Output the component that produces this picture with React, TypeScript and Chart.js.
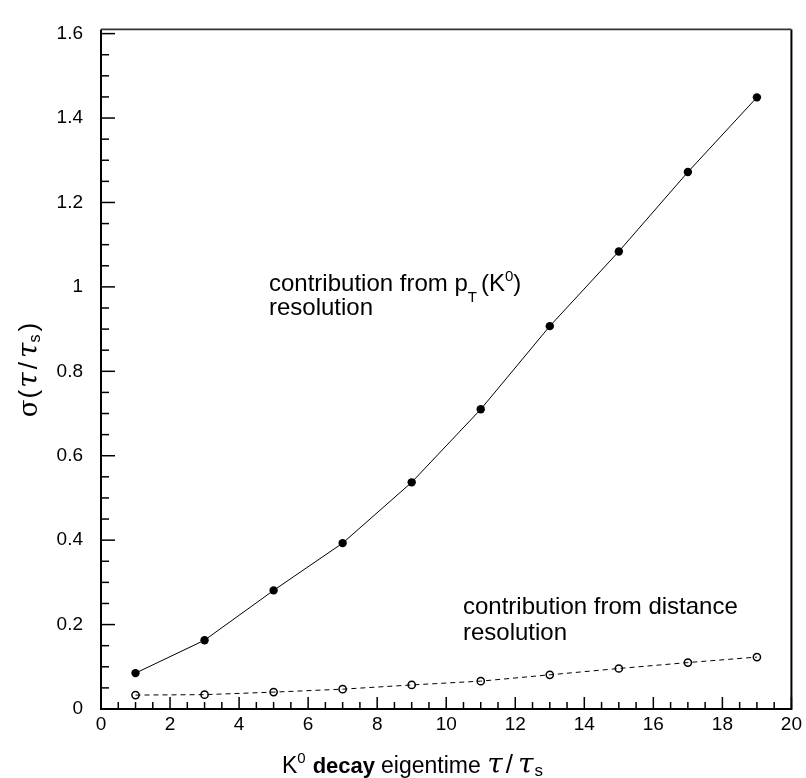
import { useEffect, useRef } from 'react';
import { Chart, registerables } from 'chart.js';

Chart.register(...registerables);

// ---- data ----
const decayTimes = [1, 3, 5, 7, 9, 11, 13, 15, 17, 19];
const ptResolution = [0.085, 0.163, 0.281, 0.393, 0.537, 0.71, 0.907, 1.084, 1.272, 1.449];
const distanceResolution = [0.033, 0.034, 0.04, 0.047, 0.057, 0.066, 0.081, 0.096, 0.11, 0.123];
const yTickValues = [0, 0.2, 0.4, 0.6, 0.8, 1, 1.2, 1.4, 1.6];
const xMajorStep = 2;
const xMinorStep = 0.5;
const yMajorStep = 0.2;
const yMinorStep = 0.05;

const FONT = '"Liberation Sans", Arial, Helvetica, sans-serif';
const SERIF = '"DejaVu Serif", "Liberation Serif", serif';

type Run = { text: string; font: string; dy?: number; dx?: number };

function runsWidth(ctx: CanvasRenderingContext2D, runs: Run[]) {
  let w = 0;
  for (const r of runs) {
    ctx.font = r.font;
    w += ctx.measureText(r.text).width + (r.dx || 0);
  }
  return w;
}

function drawRuns(ctx: CanvasRenderingContext2D, x: number, y: number, runs: Run[]) {
  let cx = x;
  ctx.textBaseline = 'alphabetic';
  ctx.textAlign = 'left';
  for (const r of runs) {
    ctx.font = r.font;
    ctx.fillText(r.text, cx, y + (r.dy || 0));
    cx += ctx.measureText(r.text).width + (r.dx || 0);
  }
  return cx - x;
}

const pawPlugin = {
  id: 'pawFrame',
  afterDraw(chart: any) {
    const ctx: CanvasRenderingContext2D = chart.ctx;
    const { left, right, top, bottom } = chart.chartArea;
    const xs = chart.scales.x;
    const ys = chart.scales.y;
    ctx.save();
    ctx.strokeStyle = '#000';
    ctx.fillStyle = '#000';

    // ticks (inside)
    ctx.lineWidth = 1.5;
    const nx = Math.round((xs.max - xs.min) / xMinorStep);
    for (let i = 0; i <= nx; i++) {
      const v = xs.min + i * xMinorStep;
      const px = xs.getPixelForValue(v);
      const major = Math.abs(v / xMajorStep - Math.round(v / xMajorStep)) < 1e-6;
      const len = major ? 12 : 7;
      ctx.beginPath();
      ctx.moveTo(px, bottom);
      ctx.lineTo(px, bottom - len);
      ctx.stroke();
    }
    const yTop = yTickValues[yTickValues.length - 1];
    const ny = Math.round(yTop / yMinorStep);
    for (let i = 0; i <= ny; i++) {
      const v = i * yMinorStep;
      const py = ys.getPixelForValue(v);
      const major = Math.abs(v / yMajorStep - Math.round(v / yMajorStep)) < 1e-6;
      const len = major ? 14 : 8;
      ctx.beginPath();
      ctx.moveTo(left, py);
      ctx.lineTo(left + len, py);
      ctx.stroke();
    }

    // frame
    ctx.lineWidth = 2;
    ctx.beginPath();
    ctx.moveTo(left, top);
    ctx.lineTo(left, bottom);
    ctx.lineTo(right, bottom);
    ctx.lineTo(right, top);
    ctx.stroke();
    ctx.lineWidth = 1.6;
    ctx.strokeStyle = '#333';
    ctx.beginPath();
    ctx.moveTo(left, top);
    ctx.lineTo(right, top);
    ctx.stroke();

    // annotations
    const f24 = `24px ${FONT}`;
    const f15 = `15px ${FONT}`;
    drawRuns(ctx, 269, 291, [
      { text: 'contribution from p', font: f24 },
      { text: 'T', font: f15, dy: 11, dx: 4 },
      { text: '(K', font: f24 },
      { text: '0', font: f15, dy: -10 },
      { text: ')', font: f24 },
    ]);
    drawRuns(ctx, 269, 315, [{ text: 'resolution', font: f24 }]);
    drawRuns(ctx, 463, 614, [{ text: 'contribution from distance', font: f24 }]);
    drawRuns(ctx, 463, 640, [{ text: 'resolution', font: f24 }]);

    // x axis title
    const t23 = `23px ${FONT}`;
    const t23b = `bold 22px ${FONT}`;
    const g28 = `italic 28px ${SERIF}`;
    const s15 = `15px ${FONT}`;
    drawRuns(ctx, 282, 773, [
      { text: 'K', font: t23 },
      { text: '0', font: s15, dy: -10, dx: 7 },
      { text: 'decay', font: t23b, dx: 6 },
      { text: 'eigentime ', font: t23, dx: 0 },
      { text: 'τ', font: g28, dx: 3 },
      { text: '/', font: `26px ${FONT}`, dx: 5 },
      { text: 'τ', font: g28, dx: 1 },
      { text: 's', font: `17px ${FONT}`, dy: 3 },
    ]);

    // y axis title (rotated)
    const yRuns: Run[] = [
      { text: 'σ', font: `26px ${SERIF}`, dx: 1 },
      { text: '(', font: `26px ${FONT}`, dx: 2 },
      { text: 'τ', font: g28, dx: 3 },
      { text: '/', font: `26px ${FONT}`, dx: 4 },
      { text: 'τ', font: g28 },
      { text: 's', font: `16px ${FONT}`, dy: 3, dx: 3 },
      { text: ')', font: `26px ${FONT}` },
    ];
    ctx.save();
    ctx.translate(37, 370);
    ctx.rotate(-Math.PI / 2);
    const w = runsWidth(ctx, yRuns);
    drawRuns(ctx, -w / 2, 0, yRuns);
    ctx.restore();

    ctx.restore();
  },
};

export default function App() {
  const ref = useRef<HTMLCanvasElement | null>(null);

  useEffect(() => {
    if (!ref.current) return;
    const chart = new Chart(ref.current, {
      type: 'line',
      data: {
        datasets: [
          {
            label: 'pT resolution',
            data: decayTimes.map((x, i) => ({ x, y: ptResolution[i] })),
            borderColor: '#000',
            borderWidth: 1,
            pointRadius: 4.2,
            pointBackgroundColor: '#000',
            pointBorderColor: '#000',
            pointBorderWidth: 0,
            tension: 0,
          },
          {
            label: 'distance resolution',
            data: decayTimes.map((x, i) => ({ x, y: distanceResolution[i] })),
            borderColor: '#000',
            borderWidth: 1,
            borderDash: [5, 4],
            pointRadius: 3.6,
            pointBackgroundColor: 'rgba(0,0,0,0)',
            pointBorderColor: '#000',
            pointBorderWidth: 1.5,
            tension: 0,
          },
        ],
      },
      options: {
        animation: false,
        responsive: false,
        maintainAspectRatio: false,
        layout: { padding: { top: 17, right: 14, left: 0, bottom: 0 } },
        plugins: { legend: { display: false }, tooltip: { enabled: false } },
        scales: {
          x: {
            type: 'linear',
            min: 0,
            max: 20,
            ticks: {
              stepSize: xMajorStep,
              color: '#000',
              font: { family: FONT, size: 19 },
              padding: 4,
              maxRotation: 0,
              autoSkip: false,
            },
            grid: { display: false, drawTicks: false },
            border: { display: false },
            afterFit: (s: any) => {
              s.height = 69;
            },
          },
          y: {
            type: 'linear',
            min: 0,
            max: 1.61,
            ticks: {
              color: '#000',
              font: { family: FONT, size: 19 },
              padding: 18,
              autoSkip: false,
              callback: (v: any) => String(+Number(v).toFixed(1)),
            },
            afterBuildTicks: (s: any) => {
              s.ticks = yTickValues.map((value) => ({ value }));
            },
            grid: { display: false, drawTicks: false },
            border: { display: false },
            afterFit: (s: any) => {
              s.width = 101;
            },
          },
        },
      },
      plugins: [pawPlugin],
    } as any);
    return () => chart.destroy();
  }, []);

  return (
    <div style={{ position: 'absolute', left: 0, top: 0, width: 806, height: 778, background: '#fff' }}>
      <canvas ref={ref} width={806} height={778} style={{ display: 'block' }} />
    </div>
  );
}
